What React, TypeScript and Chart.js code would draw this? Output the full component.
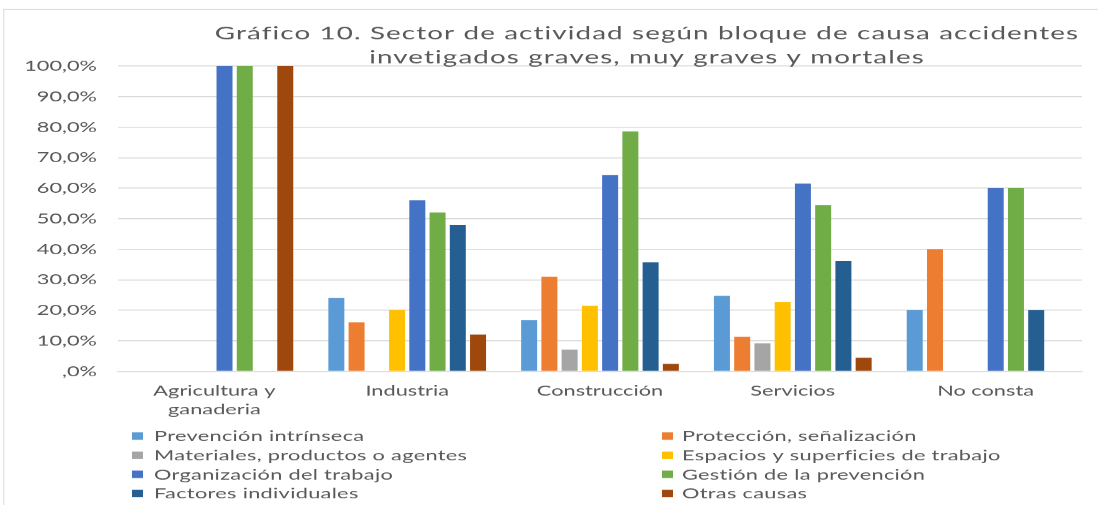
import { useEffect, useRef } from 'react';
import { Chart, registerables } from 'chart.js';

Chart.register(...registerables);

// ---------- data ----------
const categories: (string | string[])[] = [
  ['Agricultura y', 'ganaderia'],
  'Industria',
  'Construcción',
  'Servicios',
  'No consta',
];

const prevencionIntrinseca = [null, 24, 16.7, 24.7, 20];
const proteccionSenalizacion = [null, 16, 31, 11.3, 40];
const materialesProductos = [null, null, 7.1, 9.2, null];
const espaciosSuperficies = [null, 20, 21.4, 22.6, null];
const organizacionTrabajo = [100, 56, 64.3, 61.5, 60];
const gestionPrevencion = [100, 52, 78.6, 54.5, 60];
const factoresIndividuales = [null, 48, 35.7, 36.2, 20];
const otrasCausas = [100, 12, 2.4, 4.4, null];

const seriesNames = [
  'Prevención intrínseca',
  'Protección, señalización',
  'Materiales, productos o agentes',
  'Espacios y superficies de trabajo',
  'Organización del trabajo',
  'Gestión de la prevención',
  'Factores individuales',
  'Otras causas',
];
const seriesValues = [
  prevencionIntrinseca,
  proteccionSenalizacion,
  materialesProductos,
  espaciosSuperficies,
  organizacionTrabajo,
  gestionPrevencion,
  factoresIndividuales,
  otrasCausas,
];
const seriesColors = [
  '#5B9BD5',
  '#ED7D31',
  '#A5A5A5',
  '#FFC000',
  '#4472C4',
  '#70AD47',
  '#255E91',
  '#9E480E',
];

const yTickLabels = [',0%', '10,0%', '20,0%', '30,0%', '40,0%', '50,0%', '60,0%', '70,0%', '80,0%', '90,0%', '100,0%'];

const titleLines = [
  'Gráfico 10. Sector de actividad según bloque de causa accidentes',
  'invetigados graves, muy graves y mortales',
];

// ---------- layout constants ----------
const STRETCH = 1.5; // horizontal stretch of the reference picture
const CSS_W = 1098;
const CSS_H = 505;
const LOG_W = CSS_W / STRETCH;
const TEXT = '#595959';
const GRID = '#d9d9d9';
const FONT = 'Lato';

const bgPlugin = {
  id: 'bgFrame',
  beforeDraw(chart: any) {
    const ctx = chart.ctx;
    ctx.save();
    ctx.fillStyle = '#ffffff';
    ctx.fillRect(0, 0, chart.width, chart.height);
    ctx.fillStyle = GRID;
    ctx.fillRect(2.2, 9, chart.width, 1);
    ctx.fillRect(2.2, 9, 1 / STRETCH, chart.height);
    ctx.restore();
  },
};

const titlePlugin = {
  id: 'customTitle',
  afterDraw(chart: any) {
    const ctx = chart.ctx;
    ctx.save();
    ctx.font = `18.5px ${FONT}`;
    (ctx as any).letterSpacing = '0.75px';
    ctx.fillStyle = TEXT;
    ctx.textAlign = 'center';
    ctx.textBaseline = 'alphabetic';
    const cx = 647 / STRETCH;
    ctx.fillText(titleLines[0], cx, 39.5);
    ctx.fillText(titleLines[1], cx, 63.5);
    ctx.restore();
  },
};

const legendPlugin = {
  id: 'customLegend',
  afterDraw(chart: any) {
    const ctx = chart.ctx;
    ctx.save();
    ctx.font = `14.5px ${FONT}`;
    (ctx as any).letterSpacing = '0.2px';
    ctx.textAlign = 'left';
    ctx.textBaseline = 'middle';
    const colBox = [132 / STRETCH, 662 / STRETCH];
    const colText = [154 / STRETCH, 682 / STRETCH];
    chart.data.datasets.forEach((ds: any, i: number) => {
      const col = i % 2;
      const row = Math.floor(i / 2);
      const y = 435.8 + row * 19.1;
      ctx.fillStyle = ds.backgroundColor;
      ctx.fillRect(colBox[col], y - 3.7, 11 / STRETCH, 7.4);
      ctx.fillStyle = TEXT;
      ctx.fillText(ds.label, colText[col], y + 0.5);
    });
    ctx.restore();
  },
};

export default function App() {
  const ref = useRef<HTMLCanvasElement | null>(null);

  useEffect(() => {
    document.body.style.margin = '0';
    const canvas = ref.current;
    if (!canvas) return;
    const chart = new Chart(canvas, {
      type: 'bar',
      data: {
        labels: categories as any,
        datasets: seriesNames.map((name, i) => ({
          label: name,
          data: seriesValues[i] as any,
          backgroundColor: seriesColors[i],
          borderWidth: 0,
          categoryPercentage: 0.84,
          barPercentage: 0.79,
        })),
      },
      options: {
        responsive: false,
        devicePixelRatio: STRETCH,
        animation: false,
        layout: {
          padding: { left: 0, right: LOG_W - 1082 / STRETCH, top: 66, bottom: 84 },
        },
        plugins: {
          legend: { display: false },
          title: { display: false },
          tooltip: { enabled: false },
        },
        scales: {
          x: {
            grid: { display: false, drawTicks: false },
            border: { display: true, color: GRID, width: 1 },
            ticks: {
              color: TEXT,
              padding: 10,
              font: { family: FONT, size: 14.5, lineHeight: 1.3 },
              maxRotation: 0,
              autoSkip: false,
            },
            afterFit: (scale: any) => {
              scale.height = 50;
            },
          },
          y: {
            min: 0,
            max: 100,
            grid: { color: GRID, lineWidth: 1, drawTicks: false },
            border: { display: false },
            ticks: {
              stepSize: 10,
              color: TEXT,
              padding: 118 / STRETCH - 97 / STRETCH,
              font: { family: FONT, size: 14.5 },
              callback: (_v: any, idx: number) => yTickLabels[idx],
            },
            afterFit: (scale: any) => {
              scale.width = 118 / STRETCH;
            },
          },
        },
      },
      plugins: [bgPlugin, titlePlugin, legendPlugin],
    });
    return () => chart.destroy();
  }, []);

  return (
    <canvas
      ref={ref}
      width={LOG_W}
      height={CSS_H}
      style={{ width: `${CSS_W}px`, height: `${CSS_H}px`, display: 'block' }}
    />
  );
}
